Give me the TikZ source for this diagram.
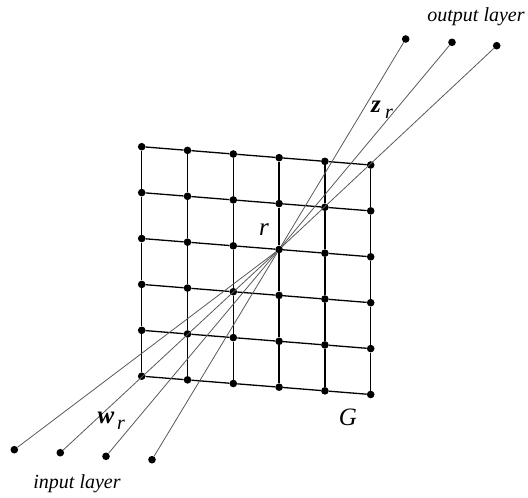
\documentclass[tikz,border=0pt]{standalone}
\usepackage{fontspec}
\setmainfont{Liberation Serif}
\usepackage{tikz}

\begin{document}
\begin{tikzpicture}[x=1pt, y=-1pt,
    unit/.style={circle, fill=black, inner sep=0pt, minimum size=7.6pt},
    grid/.style={line width=1.3pt},
    ray/.style={gray!70!black, line width=0.8pt},
    lbl/.style={font=\fontsize{20}{22}\selectfont\itshape},
    sym/.style={font=\fontsize{25}{27}\selectfont\itshape, inner sep=0pt}]
    \useasboundingbox (0,0) rectangle (528,498);

    % --- Grid G (6x6 units) ---
    \foreach \i in {0,...,5} {
        \foreach \j in {0,...,5} {
            \node[unit] (g\i\j) at ({141.7+45.8*\i},{146.7+45.9*\j+3.66*\i}) {};
        }
    }
    \foreach \i in {0,...,5} {
        \foreach \j [count=\k] in {0,...,4} {
            \draw[grid] (g\i\j) -- (g\i\k);
            \draw[grid] (g\j\i) -- (g\k\i);
        }
    }

    % --- Output layer ---
    \node[unit] (out1) at (405.7,39) {};
    \node[unit] (out2) at (452,42.3) {};
    \node[unit] (out3) at (496.7,45.7) {};

    % --- Input layer ---
    \node[unit] (in1) at (14.3,449.7) {};
    \node[unit] (in2) at (60.3,452.7) {};
    \node[unit] (in3) at (106,456.3) {};
    \node[unit] (in4) at (152,459.7) {};

    % --- Connections through unit r ---
    \foreach \n in {out1,out2,out3,in1,in2,in3,in4} {
        \draw[ray] (g32) -- (\n);
    }

    % --- Labels ---
    \node[lbl] (outlbl) at (476,17) {output layer};
    \node[lbl] (inlbl) at (77,484) {input layer};
    \node[sym] (rlbl) at (264,230) {r};
    \node[sym] (glbl) at (348,417) {G};
    \node[sym, font=\fontsize{25}{27}\selectfont\bfseries\itshape] (wlbl) at (106,418) {w};
    \node[lbl, inner sep=0pt] (wsub) at (121,425) {r};
    \node[sym, font=\fontsize{25}{27}\selectfont\bfseries\itshape] (zlbl) at (376,107) {z};
    \node[lbl, inner sep=0pt] (zsub) at (389,114) {r};

\end{tikzpicture}
\end{document}
